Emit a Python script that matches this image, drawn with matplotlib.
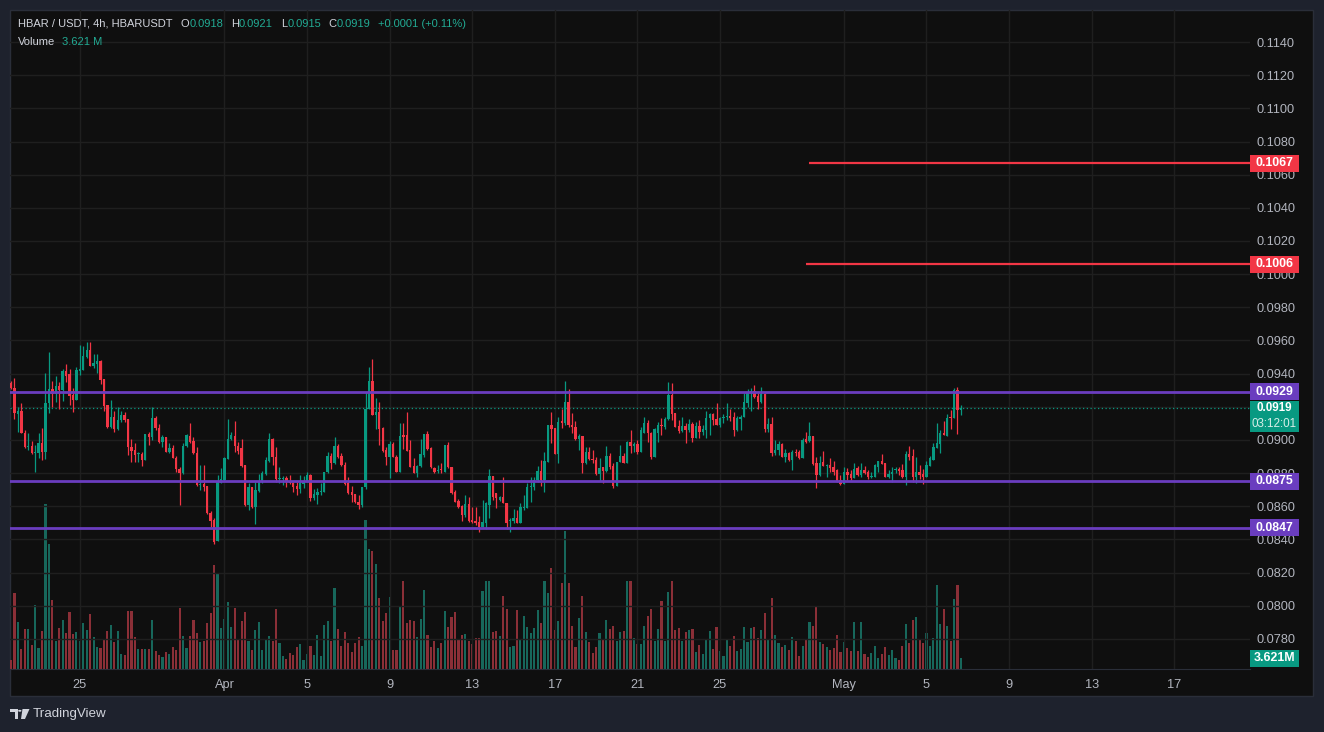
import numpy as np
import pandas as pd
import matplotlib
matplotlib.use("Agg")
import matplotlib.pyplot as plt
import matplotlib.transforms as mtransforms
from matplotlib.patches import Rectangle, Polygon, Circle

plt.rcParams['font.family'] = ['Liberation Sans', 'DejaVu Sans']

W, H = 1324, 732

# ---- data: HBAR/USDT 4h candles ----
start = pd.Timestamp('2024-03-21 16:00')

opens = [
    .09345, .09311, .09156, .09175, .09044, .08960, .08966, .08919, .08921, .08980,
    .08929, .09221, .09305, .09277, .09325, .09301, .09418, .09398, .09271, .09241,
    .09418, .09422, .09502, .09542, .09448, .09458, .09476, .09366, .09211, .09076,
    .09136, .09064, .09120, .09150, .09124, .08960, .08939, .08915, .08915, .08879,
    .09036, .09020, .09134, .09070, .08986, .09020, .08927, .08949, .08889, .08823,
    .08803, .08964, .09024, .08994, .08919, .08728, .08734, .08722, .08561, .08517,
    .08393, .08742, .08759, .08887, .09004, .09024, .08964, .08949, .08849, .08608,
    .08714, .08594, .08694, .08744, .08795, .08875, .09004, .08895, .08765, .08767,
    .08769, .08752, .08742, .08722, .08704, .08734, .08748, .08789, .08648, .08670,
    .08686, .08684, .08807, .08903, .08863, .08964, .08903, .08849, .08738, .08686,
    .08672, .08626, .08608, .08714, .09185, .09355, .09151, .09171, .09074, .08938,
    .08899, .08976, .08899, .08809, .09030, .09030, .08940, .08843, .08803, .08843,
    .08909, .09036, .08950, .08833, .08815, .08819, .08809, .08970, .08835, .08688,
    .08634, .08602, .08548, .08612, .08517, .08513, .08507, .08477, .08497, .08608,
    .08783, .08678, .08638, .08658, .08618, .08513, .08513, .08528, .08501, .08588,
    .08588, .08718, .08714, .08759, .08815, .08759, .08869, .09090, .09070, .08915,
    .09114, .09100, .09231, .09090, .09076, .09006, .09024, .08859, .08930, .08885,
    .08879, .08795, .08835, .08815, .08903, .08843, .08722, .08869, .08903, .08863,
    .08990, .08964, .08976, .08930, .09040, .09104, .09044, .08895, .09044, .09090,
    .09076, .09124, .09271, .09161, .09084, .09056, .09084, .09060, .09096, .09010,
    .09084, .09050, .09060, .09131, .09155, .09124, .09090, .09131, .09137, .09145,
    .09141, .09060, .09124, .09137, .09225, .09285, .09297, .09265, .09231, .09277,
    .09064, .09096, .08920, .08940, .08976, .08899, .08920, .08879, .08930, .08930,
    .08889, .09004, .08996, .09024, .08863, .08789, .08869, .08843, .08849, .08835,
    .08819, .08759, .08735, .08809, .08795, .08769, .08829, .08789, .08819, .08809,
    .08779, .08779, .08839, .08873, .08859, .08779, .08795, .08821, .08825, .08819,
    .08775, .08916, .08903, .08775, .08809, .08795, .08775, .08843, .08879, .08949,
    .08976, .09044, .09026, .09135, .09131, .09301, .09180,
]
highs = [
    .09355, .09372, .09197, .09221, .09060, .09040, .08994, .08970, .09040, .09070,
    .09406, .09528, .09355, .09386, .09347, .09428, .09456, .09426, .09311, .09442,
    .09573, .09567, .09589, .09591, .09518, .09516, .09482, .09366, .09211, .09241,
    .09177, .09201, .09175, .09171, .09124, .09004, .08984, .08929, .08929, .09036,
    .09050, .09197, .09144, .09096, .09030, .09020, .08980, .08970, .08903, .08839,
    .08980, .09036, .09100, .09016, .08960, .08849, .08849, .08722, .08572, .08527,
    .08789, .08833, .08899, .09124, .09050, .09116, .08990, .09004, .08849, .08738,
    .08718, .08748, .08795, .08815, .08899, .09044, .09010, .08960, .08835, .08783,
    .08783, .08787, .08748, .08748, .08789, .08783, .08809, .08795, .08702, .08710,
    .08738, .08807, .08927, .08923, .09016, .08976, .08919, .08869, .08775, .08722,
    .08672, .08668, .08718, .09291, .09438, .09486, .09251, .09227, .09080, .08960,
    .08994, .08990, .08909, .09100, .09104, .09171, .09000, .08889, .08849, .09006,
    .09036, .09054, .08960, .08839, .08849, .08859, .08970, .08990, .08835, .08698,
    .08642, .08608, .08668, .08658, .08594, .08598, .08542, .08638, .08628, .08823,
    .08783, .08678, .08662, .08779, .08622, .08527, .08582, .08578, .08622, .08668,
    .08738, .08775, .08775, .08843, .08879, .08929, .09090, .09171, .09070, .09141,
    .09185, .09356, .09307, .09161, .09114, .09036, .09024, .08960, .08956, .08940,
    .08895, .08889, .08839, .08964, .08919, .08859, .08869, .08969, .08919, .08996,
    .09060, .08990, .09000, .09080, .09141, .09120, .09050, .09070, .09110, .09131,
    .09137, .09348, .09342, .09165, .09120, .09141, .09100, .09124, .09110, .09110,
    .09120, .09090, .09177, .09165, .09161, .09225, .09137, .09157, .09221, .09185,
    .09171, .09145, .09151, .09281, .09305, .09311, .09332, .09285, .09317, .09285,
    .09131, .09141, .09000, .08996, .08980, .08944, .08930, .08940, .08944, .08940,
    .09010, .09050, .09110, .09024, .08895, .08903, .08934, .08855, .08889, .08875,
    .08823, .08789, .08839, .08829, .08819, .08863, .08843, .08859, .08843, .08819,
    .08809, .08855, .08873, .08916, .08863, .08819, .08839, .08839, .08839, .08855,
    .08936, .08964, .08944, .08895, .08849, .08823, .08875, .08903, .08980, .09104,
    .09060, .09116, .09157, .09181, .09311, .09322, .09210,
]
lows = [
    .09305, .09124, .09050, .09040, .08953, .08939, .08915, .08809, .08889, .08879,
    .08885, .09165, .09201, .09231, .09185, .09237, .09347, .09211, .09171, .09241,
    .09392, .09422, .09492, .09448, .09436, .09406, .09337, .09177, .09070, .09070,
    .09050, .09060, .09110, .09110, .08909, .08869, .08865, .08869, .08843, .08879,
    .08970, .09000, .09060, .08980, .08960, .08927, .08919, .08889, .08809, .08608,
    .08795, .08960, .08984, .08915, .08722, .08698, .08694, .08553, .08477, .08371,
    .08393, .08738, .08754, .08883, .09000, .08929, .08915, .08835, .08604, .08578,
    .08588, .08493, .08688, .08738, .08789, .08869, .08851, .08748, .08742, .08728,
    .08718, .08734, .08688, .08668, .08682, .08708, .08748, .08634, .08638, .08612,
    .08668, .08684, .08803, .08827, .08855, .08891, .08843, .08728, .08674, .08628,
    .08618, .08584, .08598, .08702, .09185, .09150, .09066, .08970, .08929, .08849,
    .08773, .08895, .08809, .08809, .08944, .08934, .08839, .08799, .08779, .08839,
    .08899, .08940, .08829, .08799, .08799, .08799, .08809, .08829, .08674, .08628,
    .08588, .08513, .08538, .08507, .08497, .08487, .08447, .08473, .08461, .08528,
    .08638, .08588, .08634, .08618, .08461, .08447, .08501, .08497, .08501, .08578,
    .08588, .08628, .08698, .08748, .08722, .08688, .08869, .08980, .08915, .08863,
    .09070, .09090, .09080, .09040, .09000, .08940, .08803, .08855, .08879, .08859,
    .08789, .08755, .08739, .08809, .08823, .08708, .08722, .08865, .08863, .08859,
    .08920, .08930, .08915, .08930, .09040, .08990, .08883, .08895, .08990, .09030,
    .09064, .09120, .09120, .09076, .09044, .09050, .08980, .09050, .08990, .09010,
    .09010, .09030, .09010, .09030, .09090, .09090, .09076, .09100, .09120, .09116,
    .09024, .09056, .09060, .09137, .09201, .09177, .09251, .09185, .09221, .09050,
    .09050, .08903, .08910, .08910, .08895, .08869, .08875, .08819, .08903, .08883,
    .08889, .08980, .08990, .08849, .08708, .08783, .08843, .08775, .08809, .08789,
    .08749, .08729, .08735, .08759, .08759, .08769, .08783, .08779, .08795, .08763,
    .08769, .08775, .08809, .08855, .08775, .08769, .08749, .08799, .08789, .08769,
    .08729, .08879, .08749, .08743, .08763, .08735, .08775, .08843, .08879, .08949,
    .08924, .09028, .09026, .09064, .09131, .09036, .09150,
]
closes = [
    .09311, .09161, .09175, .09044, .08960, .08966, .08919, .08921, .08980, .08929,
    .09221, .09305, .09277, .09325, .09301, .09418, .09386, .09267, .09241, .09422,
    .09428, .09506, .09542, .09448, .09462, .09476, .09362, .09205, .09076, .09136,
    .09064, .09120, .09150, .09120, .08955, .08935, .08909, .08917, .08879, .09036,
    .09020, .09134, .09070, .08986, .09020, .08927, .08949, .08889, .08823, .08803,
    .08964, .09030, .08990, .08919, .08728, .08732, .08718, .08558, .08513, .08387,
    .08748, .08763, .08889, .09004, .09028, .08964, .08935, .08843, .08608, .08714,
    .08594, .08698, .08748, .08799, .08879, .09004, .08895, .08763, .08769, .08769,
    .08748, .08738, .08718, .08706, .08738, .08754, .08789, .08648, .08674, .08684,
    .08688, .08807, .08903, .08863, .08964, .08899, .08849, .08734, .08682, .08668,
    .08626, .08608, .08714, .09185, .09355, .09150, .09167, .09066, .08934, .08899,
    .08976, .08895, .08809, .09024, .09020, .08934, .08839, .08803, .08843, .08915,
    .09036, .08946, .08835, .08809, .08819, .08817, .08970, .08835, .08678, .08628,
    .08594, .08548, .08612, .08513, .08507, .08501, .08477, .08507, .08618, .08783,
    .08658, .08648, .08658, .08618, .08501, .08519, .08528, .08501, .08594, .08594,
    .08718, .08720, .08759, .08815, .08759, .08875, .09090, .09064, .08915, .09110,
    .09104, .09231, .09090, .09076, .09006, .09024, .08863, .08930, .08883, .08881,
    .08795, .08829, .08815, .08903, .08839, .08722, .08869, .08903, .08863, .08990,
    .08964, .08976, .08930, .09060, .09104, .09040, .08895, .09064, .09090, .09084,
    .09124, .09271, .09157, .09080, .09056, .09084, .09060, .09096, .09010, .09084,
    .09050, .09064, .09131, .09155, .09120, .09090, .09131, .09141, .09145, .09131,
    .09060, .09131, .09141, .09231, .09291, .09297, .09261, .09231, .09277, .09064,
    .09096, .08923, .08940, .08976, .08899, .08920, .08879, .08929, .08920, .08889,
    .09000, .08990, .09024, .08855, .08789, .08863, .08843, .08849, .08829, .08809,
    .08755, .08735, .08809, .08789, .08769, .08825, .08789, .08819, .08799, .08779,
    .08785, .08849, .08873, .08855, .08779, .08795, .08809, .08825, .08815, .08775,
    .08916, .08895, .08775, .08809, .08789, .08775, .08849, .08889, .08956, .08980,
    .09044, .09030, .09135, .09131, .09301, .09181, .09190,
]
# volume in millions
volumes = [
    3.0, 25.1, 15.5, 6.6, 13.3, 13.3, 7.9, 21.1, 6.9, 12.5,
    54.3, 41.1, 22.7, 9.2, 13.5, 16.1, 11.8, 18.8, 11.5, 12.2,
    9.2, 15.1, 12.8, 18.1, 10.5, 7.2, 6.9, 9.9, 12.5, 14.5,
    8.9, 12.5, 4.9, 4.6, 19.1, 19.1, 10.5, 6.6, 6.6, 6.6,
    6.6, 16.1, 5.9, 4.6, 3.9, 5.6, 4.9, 7.2, 6.3, 20.1,
    10.9, 6.9, 10.9, 16.1, 11.8, 8.9, 9.2, 15.1, 18.4, 34.2,
    31.6, 13.5, 16.5, 22.0, 13.8, 20.1, 9.9, 15.8, 18.8, 9.2,
    6.3, 12.8, 15.5, 6.3, 9.9, 10.9, 9.2, 19.7, 8.6, 4.3,
    3.3, 5.3, 4.6, 7.2, 8.2, 3.0, 4.9, 7.6, 4.6, 11.2,
    4.3, 14.5, 15.8, 9.2, 26.7, 13.2, 7.6, 12.2, 8.6, 5.6,
    8.6, 10.5, 7.6, 49.0, 39.5, 38.8, 34.6, 23.4, 15.8, 18.4,
    23.7, 6.3, 6.3, 20.4, 29.0, 15.1, 16.1, 15.8, 10.5, 16.5,
    26.0, 11.2, 7.2, 9.2, 6.9, 8.6, 19.1, 13.8, 17.1, 18.8,
    9.9, 11.2, 11.5, 9.2, 8.2, 10.2, 10.2, 25.7, 29.0, 29.0,
    12.2, 12.5, 10.9, 24.0, 19.7, 7.2, 7.6, 19.4, 9.9, 17.4,
    13.8, 11.8, 13.5, 19.4, 15.1, 29.0, 25.0, 33.2, 12.8, 15.8,
    28.3, 45.4, 28.3, 14.2, 7.2, 16.8, 24.0, 12.2, 8.9, 5.3,
    7.2, 11.8, 9.5, 16.1, 13.2, 14.2, 9.2, 12.2, 12.5, 29.0,
    29.0, 10.2, 8.2, 8.2, 14.2, 17.4, 19.7, 9.2, 13.2, 22.4,
    9.2, 25.3, 29.0, 12.8, 13.5, 9.2, 12.2, 12.8, 13.2, 5.6,
    7.9, 4.9, 9.5, 12.5, 6.6, 13.8, 5.9, 4.3, 9.9, 7.6,
    10.9, 5.9, 6.6, 13.8, 8.9, 13.5, 13.8, 10.2, 12.8, 18.4,
    9.5, 23.4, 11.2, 8.6, 7.2, 7.9, 6.3, 10.5, 9.2, 4.3,
    7.6, 9.5, 15.5, 14.2, 20.4, 8.9, 8.2, 7.2, 6.3, 6.9,
    11.2, 5.6, 8.9, 6.9, 5.9, 15.5, 5.9, 15.5, 4.9, 3.9,
    5.3, 7.6, 3.6, 4.9, 7.2, 4.6, 6.3, 3.6, 3.0, 7.6,
    14.8, 8.6, 16.1, 17.1, 9.5, 8.6, 11.8, 7.6, 10.2, 27.6,
    14.8, 19.7, 14.2, 9.2, 23.0, 27.6, 3.621,
]

support_levels = [0.0929, 0.0875, 0.0847]
target_levels = [0.1067, 0.1006]
target_start = ['2024-04-29 08:00', '2024-04-29 04:00']
last_close = 0.0919
countdown = '03:12:01'
last_volume = 3.621

tick_dates = ['2024-03-25', '2024-04-01', '2024-04-05', '2024-04-09', '2024-04-13',
              '2024-04-17', '2024-04-21', '2024-04-25', '2024-05-01', '2024-05-05',
              '2024-05-09', '2024-05-13', '2024-05-17']
tick_labels = ['25', 'Apr', '5', '9', '13', '17', '21', '25', 'May', '5', '9', '13', '17']

title = 'HBAR / USDT, 4h, HBARUSDT'
header_parts = [('O', '0.0918'), ('H', '0.0921'), ('L', '0.0915'), ('C', '0.0919')]
change_text = '+0.0001 (+0.11%)'


def to_idx(d):
    return (pd.Timestamp(d) - start) / pd.Timedelta(hours=4)


UP, DOWN = '#089981', '#f23645'
VOL_UP, VOL_DOWN = '#17675b', '#8b2f37'
PURPLE = '#6a3dbf'
TXT = '#b2b5be'
HDR = '#d1d4dc'
GREEN_TXT = '#22ab94'
FS = 9.2      # axis label size
HFS = 8.0     # header size

o = np.array(opens); h = np.array(highs); l = np.array(lows); c = np.array(closes)
v = np.array(volumes)
x = np.arange(len(c))
up = c >= o

fig = plt.figure(figsize=(W / 100, H / 100), dpi=100, facecolor='#1e222d')

def fx(px):
    return px / W

def fy(py):
    return 1 - py / H

# chart pane
fig.patches.append(Rectangle((fx(10), fy(696)), fx(1313) - fx(10), fy(10) - fy(696),
                             transform=fig.transFigure, facecolor='#0f0f0f',
                             edgecolor='#2a2e39', lw=1, zorder=-5))

ax = fig.add_axes([fx(10), fy(669), fx(1250) - fx(10), fy(10) - fy(669)])
vax = ax.twinx()
ax.set_zorder(vax.get_zorder() + 1)
ax.patch.set_visible(False)

ymin, ymax = 0.07619, 0.11593
ax.set_xlim(-0.3, 360)
ax.set_ylim(ymin, ymax)
px_per_unit = 659 / (ymax - ymin)

# volume (overlay at the bottom)
vax.set_ylim(0, 217)
vax.bar(x, v, width=0.62, color=np.where(up, VOL_UP, VOL_DOWN), linewidth=0)
vax.set_axis_off()

# candles
col = np.where(up, UP, DOWN)
ax.vlines(x, l, h, colors=col, lw=0.9, zorder=3)
body = np.maximum(np.abs(c - o), 1.0 / px_per_unit)
ax.bar(x, body, bottom=np.minimum(o, c), width=0.68, color=col, linewidth=0, zorder=4)

# levels
for lv in support_levels:
    ax.axhline(lv, color=PURPLE, lw=2, zorder=5)
for lv, s in zip(target_levels, target_start):
    ax.hlines(lv, to_idx(s), 360, color=DOWN, lw=1.6, zorder=5)
ax.axhline(last_close, color=UP, lw=0.9, ls=(0, (1, 2)), zorder=2)

# axes styling; the price label hidden behind the last-price badge is dropped
def price_fmt(val, pos):
    if abs(val - last_close) * px_per_unit < 12:
        return ''
    return '%.4f' % val

ax.yaxis.tick_right()
ax.set_yticks(np.arange(0.0780, 0.11401, 0.002))
ax.yaxis.set_major_formatter(matplotlib.ticker.FuncFormatter(price_fmt))
ax.set_xticks([to_idx(d) for d in tick_dates], tick_labels)
ax.tick_params(axis='both', length=0, colors=TXT, labelsize=FS)
ax.tick_params(axis='y', pad=5)
ax.tick_params(axis='x', pad=7.5)
ax.grid(True, color='#1f1f1f', lw=1)
ax.set_axisbelow(True)
for side in ['top', 'right', 'left']:
    ax.spines[side].set_visible(False)
ax.spines['bottom'].set_color('#2a2e39')

# price tags on the right scale
def box(y, text, color):
    tr = mtransforms.blended_transform_factory(fig.transFigure, ax.transData)
    hh = 8.5 / px_per_unit
    ax.add_patch(Rectangle((fx(1250), y - hh), fx(1299) - fx(1250), 2 * hh, transform=tr,
                           facecolor=color, edgecolor='none', clip_on=False, zorder=20))
    ax.text(fx(1274.5), y, text, transform=tr, ha='center', va='center', color='white',
            fontsize=FS - 0.3, fontweight='bold', clip_on=False, zorder=21)

for lv in target_levels:
    box(lv, '%.4f' % lv, DOWN)
for lv in support_levels:
    box(lv, '%.4f' % lv, PURPLE)

# last price tag with countdown
tr = mtransforms.blended_transform_factory(fig.transFigure, ax.transData)
ax.add_patch(Rectangle((fx(1250), last_close - 23.5 / px_per_unit), fx(1299) - fx(1250),
                       31 / px_per_unit, transform=tr, facecolor=UP, edgecolor='none',
                       clip_on=False, zorder=20))
ax.text(fx(1274.5), last_close + 0.5 / px_per_unit, '%.4f' % last_close, transform=tr,
        ha='center', va='center', color='white', fontsize=8.4, fontweight='bold',
        clip_on=False, zorder=21)
ax.text(fx(1274.5), last_close - 15.5 / px_per_unit, countdown, transform=tr, ha='center',
        va='center', color='#d8efe9', fontsize=8.4, clip_on=False, zorder=21)

# volume tag
vtr = mtransforms.blended_transform_factory(fig.transFigure, vax.transData)
vpx = 659 / 217
vax.add_patch(Rectangle((fx(1250), last_volume - 8.5 / vpx), fx(1299) - fx(1250), 17 / vpx,
                        transform=vtr, facecolor=UP, edgecolor='none', clip_on=False, zorder=20))
vax.text(fx(1274.5), last_volume, '%.3fM' % last_volume, transform=vtr, ha='center',
         va='center', color='white', fontsize=FS - 0.3, fontweight='bold', clip_on=False,
         zorder=21)

# header legend: pieces chained left to right
prev = fig.text(fx(18), fy(24), title, color=HDR, fontsize=HFS, va='center')
for k, val in header_parts:
    prev = ax.annotate(k, xy=(1, 0.5), xycoords=prev, xytext=(5.5, 0),
                       textcoords='offset points', va='center', color=HDR, fontsize=HFS,
                       annotation_clip=False)
    prev = ax.annotate(val, xy=(1, 0.5), xycoords=prev, xytext=(0.3, 0),
                       textcoords='offset points', va='center', color=GREEN_TXT,
                       fontsize=HFS, annotation_clip=False)
ax.annotate(change_text, xy=(1, 0.5), xycoords=prev, xytext=(5.5, 0),
            textcoords='offset points', va='center', color=GREEN_TXT, fontsize=HFS,
            annotation_clip=False)
a = fig.text(fx(18), fy(42), 'Volume', color=HDR, fontsize=HFS, va='center')
ax.annotate('%.3f M' % last_volume, xy=(1, 0.5), xycoords=a, xytext=(4.5, 0),
            textcoords='offset points', va='center', color=GREEN_TXT, fontsize=HFS,
            annotation_clip=False)

# TradingView logo
fig.patches.append(Polygon([(fx(10), fy(709)), (fx(17.5), fy(709)), (fx(17.5), fy(719)),
                            (fx(14.5), fy(719)), (fx(14.5), fy(712)), (fx(10), fy(712))],
                           closed=True, transform=fig.transFigure, facecolor=HDR, edgecolor='none'))
fig.patches.append(Circle((fx(19.8), fy(710.8)), 1.7 / W, transform=fig.transFigure,
                          facecolor=HDR, edgecolor='none'))
fig.patches.append(Polygon([(fx(22.5), fy(709)), (fx(29.5), fy(709)), (fx(25), fy(719)),
                            (fx(21), fy(719))], closed=True, transform=fig.transFigure,
                           facecolor=HDR, edgecolor='none'))
fig.text(fx(33), fy(714.5), 'TradingView', color=HDR, fontsize=9.6, va='center')

fig.savefig('out.png', dpi=100, facecolor=fig.get_facecolor())
